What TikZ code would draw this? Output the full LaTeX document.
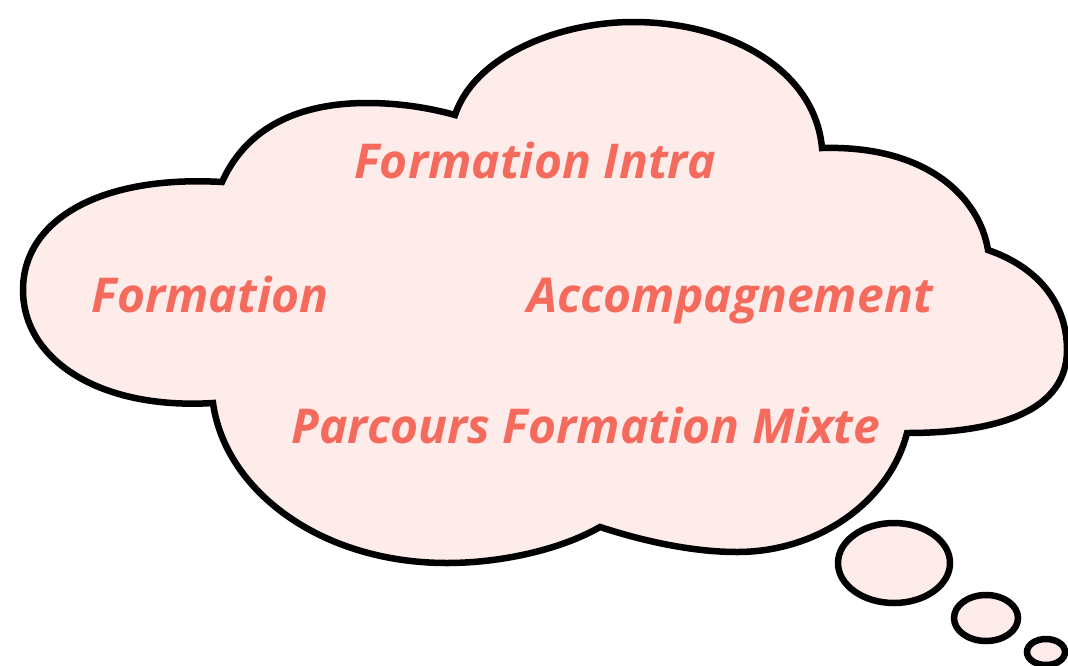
\documentclass[tikz,border=0pt]{standalone}
\usepackage{fontspec}
\setmainfont{Open Sans}
\definecolor{cloudfill}{HTML}{FEECEA}
\definecolor{txt}{HTML}{F46B5E}
\begin{document}
\begin{tikzpicture}[x=1pt,y=-1pt,
  outline/.style={draw=black,line width=6.5pt,fill=cloudfill},
  label/.style={text=txt,font=\fontsize{48}{50}\selectfont\bfseries\itshape,inner sep=0pt,anchor=base}]
\useasboundingbox (0,0) rectangle (1068,665);
\draw[outline]
  (222,182) .. controls (250,120) and (310,103) .. (367,103)
            .. controls (400,103) and (430,108) .. (455,115)
  -- (455,115) .. controls (475,55) and (560,22) .. (633,22)
            .. controls (730,22) and (815,70) .. (822,148)
  -- (822,148) .. controls (930,145) and (980,200) .. (988,250)
  -- (988,250) .. controls (1040,268) and (1067,305) .. (1067,350)
            .. controls (1067,410) and (1000,433) .. (907,433)
  -- (907,433) .. controls (890,500) and (820,552) .. (737,552)
            .. controls (690,552) and (640,540) .. (600,527)
  -- (600,527) .. controls (560,550) and (500,563) .. (447,563)
            .. controls (320,563) and (225,490) .. (213,403)
  -- (213,403) .. controls (100,410) and (23,360) .. (23,290)
            .. controls (23,220) and (100,175) .. (222,182)
  -- cycle;
\draw[outline] (894,563) ellipse [x radius=56,y radius=40];
\draw[outline] (986,618) ellipse [x radius=32,y radius=23];
\draw[outline] (1046,652) ellipse [x radius=19,y radius=13];
\node[label] (intra) at (535,178) {Formation Intra};
\node[label] (formation) at (210,312) {Formation};
\node[label] (accomp) at (730,312) {Accompagnement};
\node[label] (parcours) at (586,443) {Parcours Formation Mixte};
\end{tikzpicture}
\end{document}
